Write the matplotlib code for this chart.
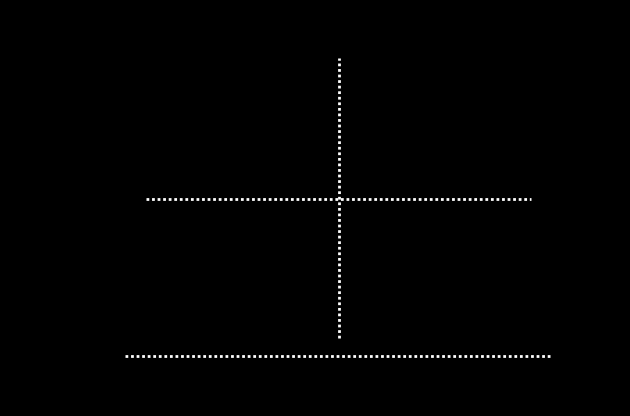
import numpy as np
import matplotlib.pyplot as plt

# intensity level and phase markers
I0 = 1.0
level_start, level_end = 0.05 * np.pi, 0.95 * np.pi
marker_phase = np.pi / 2
marker_top, marker_bottom = 1.9, 0.115
axis_start, axis_end = 0.0, np.pi
tick_pos = [0.0, np.pi / 2, np.pi]
tick_labels = [r'$0$', r'$\pi/2$', r'$\pi$']

fig = plt.figure(figsize=(6.3, 4.16), dpi=100, facecolor='black')
ax = fig.add_axes([0, 0, 1, 1])
ax.set_facecolor('black')

px_x = np.pi / 427
ax.set_xlim(-125 * px_x, 505 * px_x)
ax.set_ylim(-60 / 157, 356 / 157)
ax.axis('off')

dots = dict(color='white', lw=2, linestyle=(0, (1, 1)))
ax.plot([axis_start, axis_end], [0, 0], **dots)
ax.plot([level_start, level_end], [I0, I0], **dots)
ax.plot([marker_phase, marker_phase], [marker_bottom, marker_top], **dots)

for x, lab in zip(tick_pos, tick_labels):
    ax.text(x, -0.15, lab, color='black', fontsize=16, ha='center', va='center')
ax.text(-0.25, I0 - 0.05, r'$I_0$', color='black', fontsize=18, ha='center', va='center')
ax.text(2.4, 0.2, r'$\phi$', color='black', fontsize=16, ha='center', va='center')

fig.savefig('out.png', dpi=100, facecolor='black')
